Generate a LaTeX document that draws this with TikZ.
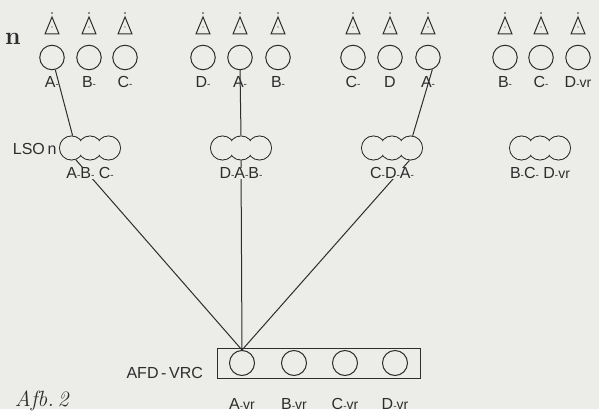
\documentclass[tikz,border=0pt]{standalone}
\usepackage{fontspec}
\newfontfamily\letters{Liberation Sans}
\usetikzlibrary{positioning}
\definecolor{ScanGray}{RGB}{236,236,233}
\definecolor{Ink}{RGB}{45,45,45}
\newcommand{\dsh}{{\fontsize{10}{10}\selectfont-}}
\newcommand{\vrtag}{{\fontsize{14}{14}\selectfont vr}}

\begin{document}
\begin{tikzpicture}[x=1pt,y=-1pt,line width=1pt,Ink,
	ring/.style={draw,circle,minimum size=24.5pt,inner sep=0pt},
	lobe/.style={draw,circle,minimum size=24pt,inner sep=0pt},
	lbl/.style={font=\letters\fontsize{16}{16}\selectfont,inner sep=0pt,anchor=base}]
	\fill[ScanGray] (0,0) rectangle (599,409);
	\node[font=\bfseries\fontsize{25}{25}\selectfont,anchor=base] (nn) at (13,45) {n};
	\node[font=\itshape\fontsize{22}{22}\selectfont,anchor=base west] (afb) at (11,406) {Afb.\,2};
	\foreach \x/\lab [count=\i] in {52/A\dsh,89/B\dsh,125/C\dsh,203/D\dsh,240/A\dsh,278/B\dsh,353/C\dsh,390/D,428/A\dsh,505/B\dsh,541/C\dsh,578/D\dsh\vrtag}{
		\draw (\x-7,34) -- (\x,17) -- (\x+7,34) -- cycle;
		\fill (\x,13) circle (0.9); \fill (\x,27) circle (0.7);
		\node[ring] (c\i) at (\x,57.5) {};
		\node[lbl] (t\i) at (\x,88) {\lab};
	}
	\foreach \x [count=\i] in {90,241,392,540}{
		\foreach \d/\s in {-18.5/l,0/m,18.5/r}
			\node[lobe] (k\i\s) at (\x+\d,148) {};
		\foreach \d in {-18.5,0,18.5}
			\fill[ScanGray] (\x+\d,148) circle (11.4);
	}
	\node[lbl,anchor=base east] (lso) at (57,155) {LSO\,n};
	\node[draw,minimum width=203pt,minimum height=30pt,inner sep=0pt] (afd) at (318.5,363) {};
	\node[lbl,anchor=base east] (afdname) at ([xshift=-13pt]afd.south west) {AFD\,-\,VRC};
	\foreach \x/\lab [count=\i] in {242/A,294/B,345/C,395/D}{
		\node[ring,minimum size=25pt] (a\i) at (\x,363) {};
		\node[lbl] (v\i) at (\x,409) {\lab\dsh\vrtag};
	}
	\draw (c1.-75) -- (k1l.85);
	\draw (k1l.-70) -- (a1.north);
	\draw (c5.south) -- (k2m.north);
	\draw (k2m.south) -- (a1.north);
	\draw (c9.-70) -- (k3r.80);
	\draw (k3r.-95) -- (a1.north);
	\foreach \x/\lab [count=\i] in {90/A\dsh B\dsh\ C\dsh,241/D\dsh A\dsh B\dsh,392/C\dsh D\dsh A\dsh,540/B\dsh C\dsh\ D\dsh\vrtag}
		\node[lbl,fill=ScanGray] (u\i) at (\x,179) {\lab};
\end{tikzpicture}
\end{document}
